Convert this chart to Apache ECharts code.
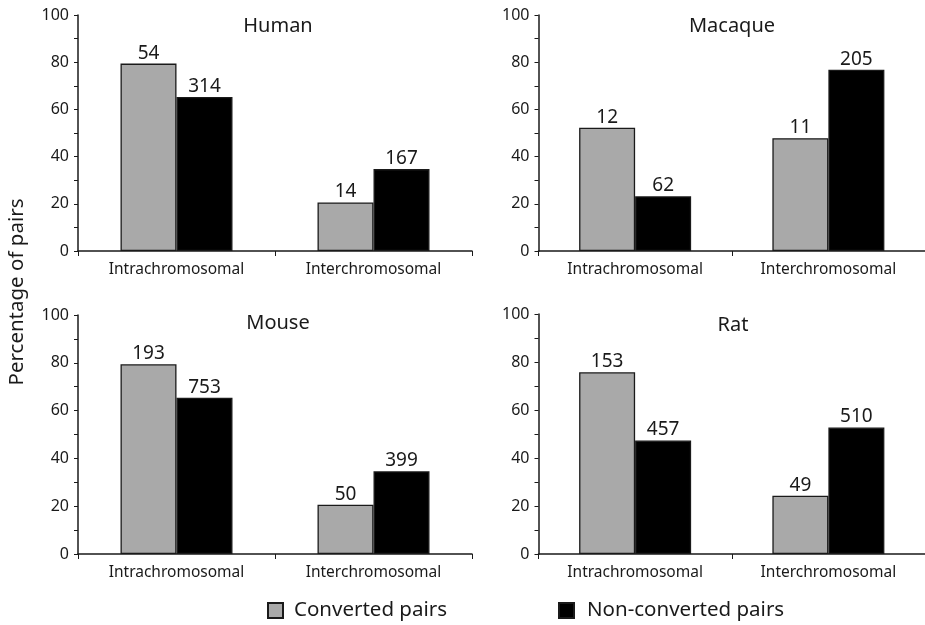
<!DOCTYPE html>
<html>
<head>
<meta charset="utf-8">
<script src="https://cdn.jsdelivr.net/npm/echarts@6/dist/echarts.min.js"></script>
<style>
  html, body { margin: 0; padding: 0; background: #fff; }
  #chart { width: 925px; height: 625px; }
</style>
</head>
<body>
<div id="chart"></div>
<script>
// Categories and species panels
const categories = ['Intrachromosomal', 'Interchromosomal'];
const species = ['Human', 'Macaque', 'Mouse', 'Rat'];
const yTicks = [0, 20, 40, 60, 80, 100];

// Percentage of pairs per panel: [intra, inter]
const convertedPct = [
  [79.4, 20.6],  // Human
  [52.2, 47.8],  // Macaque
  [79.4, 20.6],  // Mouse
  [75.7, 24.3]   // Rat
];
const nonConvertedPct = [
  [65.3, 34.7],
  [23.2, 76.8],
  [65.4, 34.6],
  [47.3, 52.7]
];

// Number of pairs printed above each bar
const convertedCounts = [
  [54, 14],
  [12, 11],
  [193, 50],
  [153, 49]
];
const nonConvertedCounts = [
  [314, 167],
  [62, 205],
  [753, 399],
  [457, 510]
];

const FONT = 'Noto Sans';
const INK = '#1a1a1a';

// Panel frames
const grids = [
  { left: 78, top: 15, width: 394, height: 236 },
  { left: 538.5, top: 15, width: 393, height: 236 },
  { left: 78, top: 315, width: 394, height: 239 },
  { left: 538.5, top: 314, width: 393, height: 240 }
];

const xAxes = grids.map((g, i) => ({
  type: 'category',
  gridIndex: i,
  data: categories,
  axisLine: { lineStyle: { color: INK, width: 1.5 } },
  axisTick: { show: true, length: 5, lineStyle: { color: INK, width: 1 } },
  axisLabel: { color: INK, fontFamily: FONT, fontSize: 15.5, margin: 11 }
}));

const yAxes = grids.map((g, i) => ({
  type: 'value',
  gridIndex: i,
  min: yTicks[0],
  max: yTicks[yTicks.length - 1],
  interval: yTicks[1] - yTicks[0],
  splitLine: { show: false },
  axisLine: { show: true, lineStyle: { color: INK, width: 1.5 } },
  axisTick: { show: true, length: 4, lineStyle: { color: INK, width: 1 } },
  minorTick: { show: true, splitNumber: 2, length: 4, lineStyle: { color: INK, width: 1 } },
  axisLabel: { color: INK, fontFamily: FONT, fontSize: 16, margin: 9 }
}));

const titleCenters = [
  { x: 278, y: 16 }, { x: 732, y: 16 },
  { x: 278, y: 313 }, { x: 733, y: 315 }
];
const titles = species.map((name, i) => ({
  text: name,
  left: titleCenters[i].x,
  top: titleCenters[i].y,
  textAlign: 'center',
  padding: 0,
  textStyle: { fontFamily: FONT, fontSize: 20, fontWeight: 'normal', color: INK }
}));

function barSeries(name, color, pct, counts, i) {
  return {
    name: name,
    type: 'bar',
    xAxisIndex: i,
    yAxisIndex: i,
    barWidth: 56,
    barGap: '0%',
    data: pct[i],
    itemStyle: { color: color, borderColor: INK, borderWidth: 1.3 },
    label: {
      show: true,
      position: 'top',
      distance: 1,
      fontFamily: FONT,
      fontSize: 19,
      color: INK,
      formatter: p => String(counts[i][p.dataIndex])
    }
  };
}

const series = [];
species.forEach((s, i) => {
  series.push(barSeries('Converted pairs', '#a9a9a9', convertedPct, convertedCounts, i));
  series.push(barSeries('Non-converted pairs', '#000000', nonConvertedPct, nonConvertedCounts, i));
});

const legendBase = {
  icon: 'rect', itemWidth: 15, itemHeight: 15, padding: 0, top: 600
};
const option = {
  animation: false,
  backgroundColor: '#ffffff',
  title: titles,
  grid: grids,
  xAxis: xAxes,
  yAxis: yAxes,
  legend: [
    Object.assign({}, legendBase, {
      data: ['Converted pairs'], left: 267,
      textStyle: { fontFamily: FONT, fontSize: 20.5, color: INK, padding: [0, 0, 0, 6] }
    }),
    Object.assign({}, legendBase, {
      data: ['Non-converted pairs'], left: 558,
      textStyle: { fontFamily: FONT, fontSize: 20.5, color: INK, padding: [0, 0, 0, 8] }
    })
  ],
  graphic: [{
    type: 'text',
    x: 7,
    y: 292,
    rotation: Math.PI / 2,
    style: {
      text: 'Percentage of pairs',
      fontFamily: FONT,
      fontSize: 20.5,
      fill: INK,
      align: 'center',
      verticalAlign: 'top'
    }
  }],
  series: series
};

const chart = echarts.init(document.getElementById('chart'), null, { renderer: 'canvas' });
chart.setOption(option);
</script>
</body>
</html>
